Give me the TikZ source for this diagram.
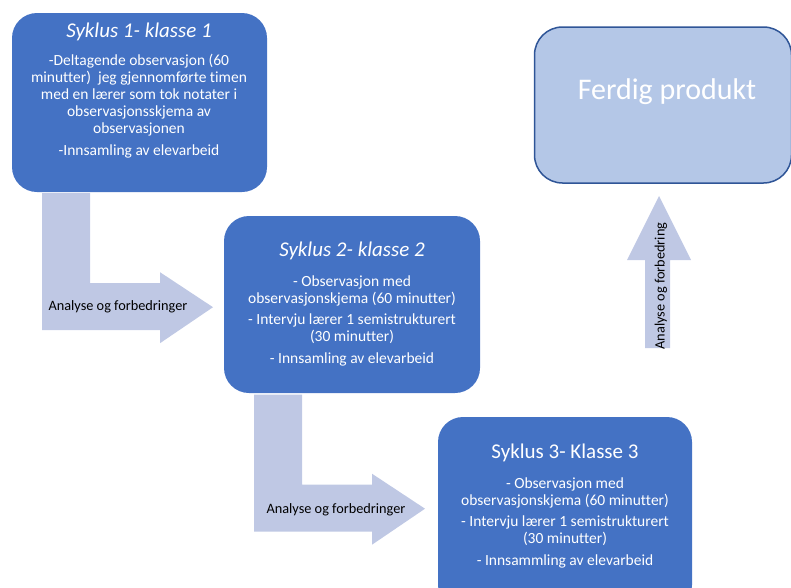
\documentclass[tikz,border=0pt]{standalone}
\usepackage{fontspec}
\setmainfont[Ligatures=NoCommon]{Carlito}
\definecolor{syklusblaa}{HTML}{4472C4}
\definecolor{pilblaa}{HTML}{BFC8E4}
\definecolor{produktblaa}{HTML}{B4C7E7}
\definecolor{kantblaa}{HTML}{2F5597}
\tikzset{
  syklus/.style={fill=syklusblaa, rounded corners=25pt, inner sep=0pt},
  tittel/.style={text=white, font=\fontsize{21}{25}\selectfont},
  punkter/.style={text=white, align=center, font=\fontsize{15.5}{17}\selectfont},
  pilnavn/.style={font=\fontsize{14.3}{17}\selectfont},
  pics/bentpil/.style={code={
    \fill[pilblaa] (0,0) -- (48,0) -- (48,90) -- (118,90) -- (118,79) -- (171,114)
      -- (118,150) -- (118,137) -- (0,137) -- cycle;
  }}
}
\begin{document}
\begin{tikzpicture}[x=1pt, y=-1pt]
\path[use as bounding box, clip] (0,0) rectangle (791,587);

\node[syklus, minimum width=255pt, minimum height=179pt] (B1) at (139.5,102.5) {};
\node[syklus, minimum width=256pt, minimum height=177pt] (B2) at (352,304.5) {};
\node[syklus, minimum width=254pt, minimum height=193pt] (B3) at (565,513.5) {};
\node[fill=produktblaa, draw=kantblaa, line width=1.5pt, rounded corners=28pt,
  minimum width=257pt, minimum height=156pt] (P) at (663,105) {};

\node[tittel] (T1) at (139,32) {\itshape Syklus 1- klasse 1};
\node[punkter] (L1) at (139,106) {-Deltagende observasjon (60\\minutter)\ \ jeg gjennomførte timen\\
  med en lærer som tok notater i\\observasjonsskjema av\\observasjonen\\[5pt]-Innsamling av elevarbeid};

\node[tittel] (T2) at (352,251) {\itshape Syklus 2- klasse 2};
\node[punkter] (L2) at (352,321) {- Observasjon med\\observasjonskjema (60 minutter)\\[4pt]
  - Intervju lærer 1 semistrukturert\\(30 minutter)\\[5pt]- Innsamling av elevarbeid};

\node[tittel] (T3) at (565,453) {Syklus 3- Klasse 3};
\node[punkter] (L3) at (565,523) {- Observasjon med\\observasjonskjema (60 minutter)\\[4pt]
  - Intervju lærer 1 semistrukturert\\(30 minutter)\\[5pt]- Innsammling av elevarbeid};

\node[text=white, font=\fontsize{30}{36}\selectfont] (PT) at (667,92) {Ferdig produkt};

\pic at ([xshift=-97.5pt, yshift=-1pt]B1.south) {bentpil};
\pic at ([xshift=-98pt, yshift=-1.5pt]B2.south) {bentpil};
\node[pilnavn] (A1) at (118,307) {Analyse og forbedringer};
\node[pilnavn] (A2) at (336,510) {Analyse og forbedringer};

\fill[pilblaa] (645,348) -- (645,260) -- (627,260) -- (659,196) -- (691,260)
  -- (670,260) -- (670,348) -- cycle;
\node[pilnavn, rotate=90] (A3) at (661,286) {Analyse og forbedring};
\end{tikzpicture}
\end{document}
